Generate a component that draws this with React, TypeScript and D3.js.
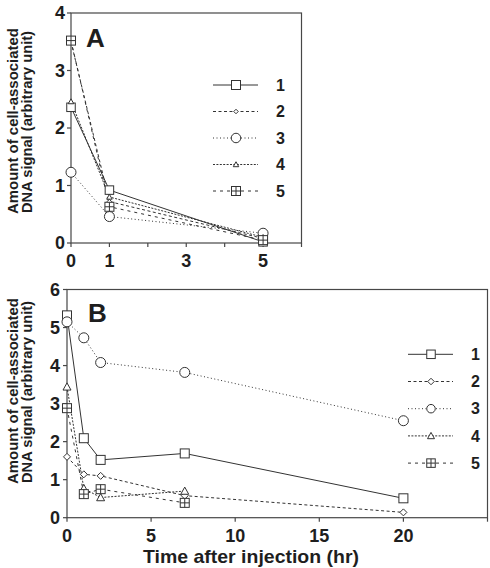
import React from 'react';
import * as d3 from 'd3';

// ---------- data ----------
const seriesLabels = ['1', '2', '3', '4', '5'];

// Panel A (time in hr)
const timesA = [0, 1, 5];
const a1 = [2.36, 0.92, 0.02];
const a2 = [3.5, 0.72, 0.08];
const a3 = [1.23, 0.46, 0.17];
const a4 = [2.46, 0.8, 0.1];
const a5 = [3.52, 0.63, 0.05];

// Panel B
const timesB = [0, 1, 2, 7, 20];
const timesBShort = [0, 1, 2, 7];
const b1 = [5.32, 2.09, 1.52, 1.69, 0.51];
const b2 = [1.6, 1.14, 1.1, 0.58, 0.14];
const b3 = [5.15, 4.73, 4.08, 3.82, 2.55];
const b4 = [3.44, 0.77, 0.53, 0.7];
const b5 = [2.88, 0.62, 0.75, 0.39];

const xTicksA = [0, 1, 2, 3, 4, 5, 6];
const xLabelsA = [0, 1, 3, 5];
const yTicksA = [0, 1, 2, 3, 4];
const xTicksB = [0, 5, 10, 15, 20, 25];
const xLabelsB = [0, 5, 10, 15, 20];
const yTicksB = [0, 1, 2, 3, 4, 5, 6];

// ---------- styles ----------
const FONT = '"Liberation Sans", Arial, Helvetica, sans-serif';
const TEXT = '#1e1e1e';
const AXIS = '#474747';
const LINE = '#333';
const dashes = [null, '3,2.5', '1,2.5', '2,1.4', '3,4'];
const shapes = ['square', 'diamond', 'circle', 'triangle', 'boxplus'];

function Marker({ shape, x, y, s }: { shape: string; x: number; y: number; s: number }) {
  const h = s / 2;
  const common = { fill: '#fff', stroke: LINE, strokeWidth: 1 };
  if (shape === 'square') return <rect x={x - h} y={y - h} width={s} height={s} {...common} />;
  if (shape === 'circle') return <circle cx={x} cy={y} r={h} {...common} />;
  if (shape === 'diamond')
    return <path d={`M${x},${y - h}L${x + h},${y}L${x},${y + h}L${x - h},${y}Z`} {...common} />;
  if (shape === 'triangle')
    return <path d={`M${x},${y - h}L${x + h},${y + h * 0.8}L${x - h},${y + h * 0.8}Z`} {...common} />;
  return (
    <g>
      <rect x={x - h} y={y - h} width={s} height={s} {...common} />
      <path d={`M${x - h},${y}H${x + h}M${x},${y - h}V${y + h}`} stroke={LINE} strokeWidth={1} />
    </g>
  );
}

type Series = { t: number[]; v: number[] };

function Panel(props: {
  x0: number; x1: number; y0: number; y1: number;
  xDomain: [number, number]; yDomain: [number, number];
  xTicks: number[]; xLabels: number[]; yTicks: number[];
  series: Series[]; sizes: number[]; legendSizes: number[];
  letter: string; letterX: number; letterY: number;
  legendX: number; legendY: number; legendStep: number;
  yLabelGap: number; xLabelY: number;
}) {
  const x = d3.scaleLinear().domain(props.xDomain).range([props.x0, props.x1]);
  const y = d3.scaleLinear().domain(props.yDomain).range([props.y1, props.y0]);
  const line = d3.line<[number, number]>().x(d => x(d[0])).y(d => y(d[1]));
  return (
    <g>
      {/* frame */}
      <rect x={props.x0} y={props.y0} width={props.x1 - props.x0} height={props.y1 - props.y0}
        fill="none" stroke={AXIS} strokeWidth={1.2} />
      {props.yTicks.map(t => (
        <g key={'y' + t}>
          <line x1={props.x0 - 4} x2={props.x0} y1={y(t)} y2={y(t)} stroke={AXIS} strokeWidth={1.2} />
          <text x={props.x0 - props.yLabelGap} y={y(t)} dy="0.36em" textAnchor="end"
            fontSize={18} fontWeight="bold" fill={TEXT} fontFamily={FONT}>{t}</text>
        </g>
      ))}
      {props.xTicks.map(t => (
        <line key={'x' + t} x1={x(t)} x2={x(t)} y1={props.y1} y2={props.y1 + 4} stroke={AXIS} strokeWidth={1.2} />
      ))}
      {props.xLabels.map(t => (
        <text key={'xl' + t} x={x(t)} y={props.xLabelY} textAnchor="middle"
          fontSize={18} fontWeight="bold" fill={TEXT} fontFamily={FONT}>{t}</text>
      ))}
      <text x={props.letterX} y={props.letterY} fontSize={26} fontWeight="bold" fill={TEXT} fontFamily={FONT}>
        {props.letter}
      </text>
      {/* lines */}
      {props.series.map((s, i) => (
        <path key={'l' + i} d={line(s.t.map((t, j) => [t, s.v[j]] as [number, number])) || ''}
          fill="none" stroke={LINE} strokeWidth={1} strokeDasharray={dashes[i] || undefined} />
      ))}
      {/* markers */}
      {props.series.map((s, i) => (
        <g key={'m' + i}>
          {s.t.map((t, j) => (
            <Marker key={j} shape={shapes[i]} x={x(t)} y={y(s.v[j])} s={props.sizes[i]} />
          ))}
        </g>
      ))}
      {/* legend */}
      {seriesLabels.map((lab, i) => {
        const ly = props.legendY + i * props.legendStep;
        return (
          <g key={'lg' + i}>
            <line x1={props.legendX} x2={props.legendX + 45} y1={ly} y2={ly} stroke={LINE} strokeWidth={1}
              strokeDasharray={dashes[i] || undefined} />
            <Marker shape={shapes[i]} x={props.legendX + 23} y={ly} s={props.legendSizes[i]} />
            <text x={props.legendX + 63} y={ly} dy="0.36em" fontSize={16} fontWeight="bold" fill={TEXT}
              fontFamily={FONT}>{lab}</text>
          </g>
        );
      })}
    </g>
  );
}

function YTitle({ cy }: { cy: number }) {
  return (
    <g fontFamily={FONT} fontWeight="bold" fontSize={15.5} fill={TEXT} textAnchor="middle">
      <text transform={`translate(18,${cy}) rotate(-90)`} textLength={186} lengthAdjust="spacingAndGlyphs">
        Amount of cell-associated
      </text>
      <text transform={`translate(32,${cy + 1}) rotate(-90)`} textLength={182} lengthAdjust="spacingAndGlyphs">
        DNA signal (arbitrary unit)
      </text>
    </g>
  );
}

export default function App() {
  const seriesA: Series[] = [
    { t: timesA, v: a1 }, { t: timesA, v: a2 }, { t: timesA, v: a3 }, { t: timesA, v: a4 }, { t: timesA, v: a5 },
  ];
  const seriesB: Series[] = [
    { t: timesB, v: b1 }, { t: timesB, v: b2 }, { t: timesB, v: b3 }, { t: timesBShort, v: b4 }, { t: timesBShort, v: b5 },
  ];
  return (
    <svg width={490} height={568} style={{ position: 'absolute', left: 0, top: 0, background: '#fff' }}>
      <rect width={490} height={568} fill="#fff" />
      <YTitle cy={121} />
      <YTitle cy={391} />
      <Panel x0={71} x1={301.5} y0={13} y1={243} xDomain={[0, 6]} yDomain={[0, 4]}
        xTicks={xTicksA} xLabels={xLabelsA} yTicks={yTicksA} series={seriesA}
        sizes={[8.5, 4.5, 10, 5.5, 9]} legendSizes={[9, 4.5, 9.5, 5.5, 9]}
        letter="A" letterX={86} letterY={47} legendX={213} legendY={85} legendStep={26.5}
        yLabelGap={6} xLabelY={267} />
      <Panel x0={67} x1={487.5} y0={289.5} y1={517.7} xDomain={[0, 25]} yDomain={[0, 6]}
        xTicks={xTicksB} xLabels={xLabelsB} yTicks={yTicksB} series={seriesB}
        sizes={[9, 7, 10, 8, 9]} legendSizes={[8.5, 6.5, 8.5, 7, 8.5]}
        letter="B" letterX={88} letterY={322} legendX={408} legendY={354.3} legendStep={27.2}
        yLabelGap={7} xLabelY={542} />
      <text x={251} y={563} textAnchor="middle" fontFamily={FONT} fontWeight="bold" fontSize={19} fill={TEXT}
        textLength={216} lengthAdjust="spacingAndGlyphs">
        Time after injection (hr)
      </text>
    </svg>
  );
}
